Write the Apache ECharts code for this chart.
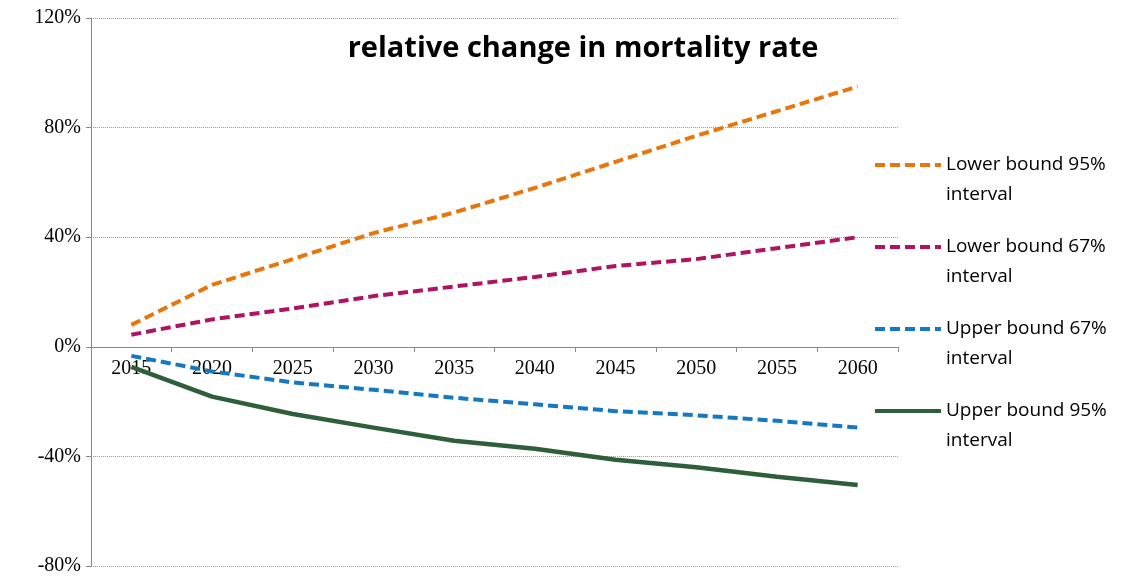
<!DOCTYPE html>
<html><head><meta charset="utf-8">
<script src="https://cdn.jsdelivr.net/npm/echarts@6/dist/echarts.min.js"></script>
<style>html,body{margin:0;background:#fff}#c{width:1142px;height:577px}</style>
</head><body><div id="c"></div>
<script>
var years = ['2015','2020','2025','2030','2035','2040','2045','2050','2055','2060'];
var lower95 = [8, 22.6, 32, 41.5, 49, 58, 67.5, 77, 86, 95];
var lower67 = [4.4, 10, 14, 18.5, 22, 25.5, 29.5, 32, 36, 40];
var upper67 = [-3.3, -9, -13, -15.7, -18.6, -21, -23.5, -25, -27, -29.5];
var upper95 = [-7.3, -18.2, -24.5, -29.5, -34.3, -37.2, -41.2, -44, -47.4, -50.4];

var chart = echarts.init(document.getElementById('c'));
function line(name, data, color, dashed) {
    return {
        name: name, type: 'line', data: data, symbol: 'none',
        lineStyle: {color: color, width: dashed ? 4 : 4.5, type: dashed ? [10, 5] : 'solid'},
        itemStyle: {color: color}
    };
}
chart.setOption({
    animation: false,
    title: {
        text: 'relative change in mortality rate', left: 578, top: 29, textAlign: 'center',
        textStyle: {fontFamily: 'Open Sans', fontWeight: 'bold', fontSize: 29, color: '#000'}
    },
    legend: {
        orient: 'vertical', left: 868, top: 115, itemWidth: 66, itemHeight: 14, itemGap: -8,
        lineStyle: {width: 4},
        itemStyle: {opacity: 0},
        formatter: function (n) { return ' \n' + n; },
        textStyle: {fontFamily: 'Open Sans', fontSize: 19, color: '#000', lineHeight: 30},
        data: ['Lower bound 95%\ninterval', 'Lower bound 67%\ninterval', 'Upper bound 67%\ninterval', 'Upper bound 95%\ninterval']
    },
    grid: {left: 91, right: 244, top: 18, bottom: 11, outerBoundsMode: 'none', containLabel: false},
    xAxis: {
        type: 'category', data: years, boundaryGap: true,
        axisLine: {onZero: false, lineStyle: {color: '#888'}},
        offset: -219,
        axisTick: {show: true, length: 5, lineStyle: {color: '#888'}},
        axisLabel: {fontFamily: 'Liberation Serif', fontSize: 20, color: '#000', margin: 12}
    },
    yAxis: {
        type: 'value', min: -80, max: 120, interval: 40,
        axisLine: {show: true, lineStyle: {color: '#888'}},
        axisTick: {show: true, length: 5, lineStyle: {color: '#888'}},
        axisLabel: {formatter: '{value}%', fontFamily: 'Liberation Serif', fontSize: 20, color: '#000', margin: 10},
        splitLine: {lineStyle: {color: '#999', type: 'dotted'}}
    },
    series: [
        line('Lower bound 95%\ninterval', lower95, '#e8760a', true),
        line('Lower bound 67%\ninterval', lower67, '#b0135f', true),
        line('Upper bound 67%\ninterval', upper67, '#1478c3', true),
        line('Upper bound 95%\ninterval', upper95, '#2f5f3a', false)
    ]
});
</script></body></html>
